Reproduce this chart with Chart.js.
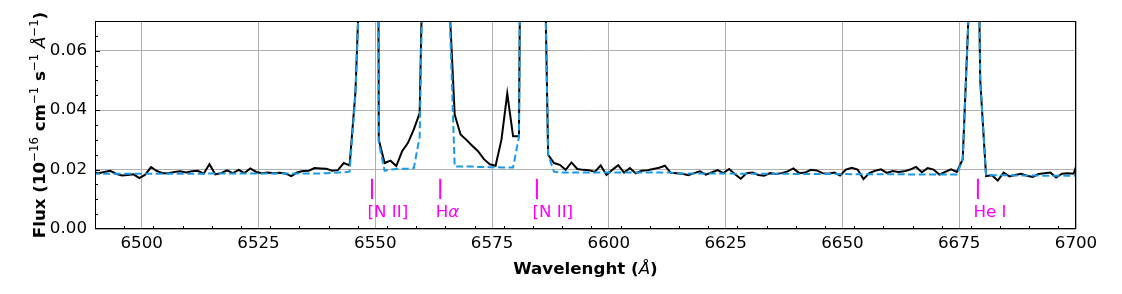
<!DOCTYPE html>
<html><head><meta charset="utf-8">
<script src="https://cdn.jsdelivr.net/npm/chart.js@4.4.1/dist/chart.umd.min.js"></script>
<style>html,body{margin:0;padding:0;background:#fff;}#wrap{width:1122px;height:294px;}</style>
</head><body><div id="wrap"><canvas id="c" width="1122" height="294"></canvas></div>
<script>
// Wavelength grid (Angstrom), 1.25 A sampling
const wavelength = [
6489.5,6490.75,6492,6493.25,6494.5,6495.75,6497,6498.25,6499.5,6500.75,
6502,6503.25,6504.5,6505.75,6507,6508.25,6509.5,6510.75,6512,6513.25,
6514.5,6515.75,6517,6518.25,6519.5,6520.75,6522,6523.25,6524.5,6525.75,
6527,6528.25,6529.5,6530.75,6532,6533.25,6534.5,6535.75,6537,6538.25,
6539.5,6540.75,6542,6543.25,6544.5,6545.75,6547,6548.25,6549.5,6550.75,
6552,6553.25,6554.5,6555.75,6557,6558.25,6559.5,6560.75,6562,6563.25,
6564.5,6565.75,6567,6568.25,6569.5,6570.75,6572,6573.25,6574.5,6575.75,
6577,6578.25,6579.5,6580.75,6582,6583.25,6584.5,6585.75,6587,6588.25,
6589.5,6590.75,6592,6593.25,6594.5,6595.75,6597,6598.25,6599.5,6600.75,
6602,6603.25,6604.5,6605.75,6607,6608.25,6609.5,6610.75,6612,6613.25,
6614.5,6615.75,6617,6618.25,6619.5,6620.75,6622,6623.25,6624.5,6625.75,
6627,6628.25,6629.5,6630.75,6632,6633.25,6634.5,6635.75,6637,6638.25,
6639.5,6640.75,6642,6643.25,6644.5,6645.75,6647,6648.25,6649.5,6650.75,
6652,6653.25,6654.5,6655.75,6657,6658.25,6659.5,6660.75,6662,6663.25,
6664.5,6665.75,6667,6668.25,6669.5,6670.75,6672,6673.25,6674.5,6675.75,
6677,6678.25,6679.5,6680.75,6682,6683.25,6684.5,6685.75,6687,6688.25,
6689.5,6690.75,6692,6693.25,6694.5,6695.75,6697,6698.25,6699.5,6700.75,
6702];

// Observed flux (1e-16 erg cm^-1 s^-1 A^-1)
const observedFlux = [
0.0192,0.0188,0.0192,0.0196,0.0186,0.0180,0.0182,0.0184,0.0171,0.0183,
0.0208,0.0195,0.0188,0.0188,0.0192,0.0194,0.0190,0.0194,0.0196,0.0186,
0.0218,0.0184,0.0188,0.0197,0.0188,0.0199,0.0188,0.0204,0.0192,0.0188,
0.0190,0.0188,0.0189,0.0187,0.0178,0.0190,0.0195,0.0196,0.0205,0.0204,
0.0203,0.0196,0.0198,0.0222,0.0214,0.0460,0.1000,0.6000,0.8000,0.0300,
0.0222,0.0230,0.0212,0.0262,0.0290,0.0335,0.0390,0.1400,0.5000,0.9000,
0.6000,0.0800,0.0385,0.0318,0.0300,0.0280,0.0262,0.0235,0.0218,0.0213,
0.0300,0.0456,0.0312,0.0312,0.3000,1.0000,0.9000,0.1400,0.0250,0.0222,
0.0216,0.0199,0.0224,0.0202,0.0199,0.0198,0.0192,0.0214,0.0182,0.0199,
0.0215,0.0190,0.0205,0.0187,0.0196,0.0198,0.0202,0.0206,0.0213,0.0189,
0.0188,0.0186,0.0181,0.0188,0.0194,0.0183,0.0190,0.0198,0.0188,0.0202,
0.0184,0.0169,0.0188,0.0190,0.0182,0.0179,0.0188,0.0185,0.0188,0.0194,
0.0204,0.0188,0.0190,0.0199,0.0197,0.0188,0.0186,0.0190,0.0180,0.0200,
0.0206,0.0200,0.0168,0.0188,0.0196,0.0201,0.0189,0.0195,0.0192,0.0194,
0.0200,0.0209,0.0191,0.0205,0.0200,0.0183,0.0192,0.0201,0.0192,0.0235,
0.0720,0.2000,0.0500,0.0178,0.0181,0.0163,0.0190,0.0177,0.0182,0.0186,
0.0179,0.0175,0.0185,0.0188,0.0190,0.0173,0.0186,0.0188,0.0186,0.0245,
0.0250];

// Fitted model flux
const modelFlux = [
0.0186,0.0186,0.0186,0.0186,0.0186,0.0186,0.0186,0.0186,0.0186,0.0186,
0.0186,0.0186,0.0186,0.0186,0.0186,0.0186,0.0186,0.0186,0.0186,0.0186,
0.0187,0.0187,0.0187,0.0187,0.0187,0.0187,0.0187,0.0187,0.0187,0.0187,
0.0187,0.0187,0.0187,0.0187,0.0187,0.0187,0.0187,0.0187,0.0187,0.0187,
0.0188,0.0189,0.0190,0.0191,0.0193,0.0450,0.1000,0.6000,0.8000,0.0290,
0.0196,0.0200,0.0202,0.0203,0.0203,0.0205,0.0310,0.1400,0.5000,0.9000,
0.6000,0.0800,0.0210,0.0210,0.0210,0.0210,0.0209,0.0209,0.0208,0.0208,
0.0207,0.0207,0.0207,0.0310,0.3000,1.0000,0.9000,0.1400,0.0250,0.0193,
0.0190,0.0190,0.0190,0.0190,0.0190,0.0190,0.0190,0.0190,0.0190,0.0190,
0.0190,0.0190,0.0190,0.0190,0.0190,0.0190,0.0190,0.0190,0.0190,0.0190,
0.0187,0.0187,0.0187,0.0187,0.0187,0.0187,0.0187,0.0187,0.0187,0.0187,
0.0186,0.0186,0.0186,0.0186,0.0186,0.0186,0.0186,0.0186,0.0186,0.0186,
0.0185,0.0185,0.0185,0.0185,0.0185,0.0185,0.0185,0.0185,0.0185,0.0185,
0.0184,0.0184,0.0184,0.0184,0.0184,0.0184,0.0184,0.0184,0.0184,0.0184,
0.0183,0.0183,0.0183,0.0183,0.0183,0.0183,0.0183,0.0183,0.0183,0.0235,
0.0720,0.2000,0.0500,0.0182,0.0181,0.0181,0.0181,0.0181,0.0180,0.0180,
0.0180,0.0180,0.0180,0.0179,0.0179,0.0179,0.0179,0.0179,0.0179,0.0179,
0.0179];

const xTickValues = [6500, 6525, 6550, 6575, 6600, 6625, 6650, 6675, 6700];
const yTickValues = [0.00, 0.02, 0.04, 0.06];

// Emission line markers
const lineNames = ['[N II]', 'H\u03b1', '[N II]', 'He I'];
const lineWaves = [6549.3, 6563.9, 6584.6, 6679.0];

const FONT = 'DejaVu Sans';
const FS = 16.7;

const decorPlugin = {
  id: 'decor',
  afterDraw(chart) {
    const ctx = chart.ctx;
    const xs = chart.scales.x, ys = chart.scales.y;
    const a = chart.chartArea;
    ctx.save();
    // frame
    ctx.strokeStyle = '#000';
    ctx.lineWidth = 1;
    ctx.strokeRect(Math.round(a.left) + 0.5, Math.round(a.top) + 0.5,
      Math.round(a.right - a.left) - 1, Math.round(a.bottom - a.top) - 1);
    // inward ticks
    ctx.beginPath();
    for (let v = 6490; v <= 6700 + 1e-6; v += 6.25) {
      const px = Math.round(xs.getPixelForValue(v)) + 0.5;
      if (px < a.left || px > a.right) continue;
      const major = Math.abs((v - 6500) / 25 - Math.round((v - 6500) / 25)) < 1e-6;
      const len = major ? 5 : 3;
      ctx.moveTo(px, a.bottom);
      ctx.lineTo(px, a.bottom - len);
    }
    for (let i = 0; i <= 14; i++) {
      const v = i * 0.005;
      const py = Math.round(ys.getPixelForValue(v)) + 0.5;
      if (py < a.top || py > a.bottom) continue;
      const len = (i % 4 === 0) ? 5 : 3;
      ctx.moveTo(a.left, py);
      ctx.lineTo(a.left + len, py);
    }
    ctx.stroke();

    // emission line markers
    ctx.fillStyle = '#ff00ff';
    ctx.strokeStyle = '#ff00ff';
    ctx.lineWidth = 2;
    ctx.textBaseline = 'alphabetic';
    ctx.textAlign = 'left';
    lineWaves.forEach((w, i) => {
      const px = xs.getPixelForValue(w);
      ctx.beginPath();
      ctx.moveTo(px, ys.getPixelForValue(0.0169));
      ctx.lineTo(px, ys.getPixelForValue(0.0101));
      ctx.stroke();
      const name = lineNames[i];
      const by = ys.getPixelForValue(0.0041);
      let x0 = px - 4.5;
      if (name === 'H\u03b1') {
        ctx.font = FS + 'px "' + FONT + '"';
        ctx.fillText('H', x0, by);
        x0 += ctx.measureText('H').width;
        ctx.font = 'italic ' + FS + 'px "' + FONT + '"';
        ctx.fillText('\u03b1', x0, by);
      } else {
        ctx.font = FS + 'px "' + FONT + '"';
        ctx.fillText(name, x0, by);
      }
    });

    // axis titles
    ctx.fillStyle = '#000';
    const bold = 'bold ' + FS + 'px "' + FONT + '"';
    const ital = 'italic ' + FS + 'px "' + FONT + '"';
    const sup = (FS * 0.7).toFixed(1) + 'px "' + FONT + '"';
    function drawSegs(segs, cx, cy) {
      let total = 0;
      segs.forEach(s => { ctx.font = s.f; s.w = ctx.measureText(s.t).width; total += s.w; });
      let x = cx - total / 2;
      segs.forEach(s => { ctx.font = s.f; ctx.fillText(s.t, x, cy + (s.dy || 0)); x += s.w; });
    }
    ctx.textAlign = 'left';
    ctx.textBaseline = 'alphabetic';
    drawSegs([
      {t: 'Wavelenght (', f: bold},
      {t: '\u00c5', f: ital},
      {t: ')', f: bold}
    ], (a.left + a.right) / 2, 274);

    ctx.save();
    ctx.translate(45, (a.top + a.bottom) / 2);
    ctx.rotate(-Math.PI / 2);
    drawSegs([
      {t: 'Flux (10', f: bold},
      {t: '\u221216', f: sup, dy: -7},
      {t: ' cm', f: bold},
      {t: '\u22121', f: sup, dy: -7},
      {t: ' s', f: bold},
      {t: '\u22121', f: sup, dy: -7},
      {t: ' ', f: bold},
      {t: '\u00c5', f: ital},
      {t: '\u22121', f: sup, dy: -7},
      {t: ')', f: bold}
    ], 0, 0);
    ctx.restore();
    ctx.restore();
  }
};

new Chart(document.getElementById('c'), {
  type: 'line',
  data: {
    datasets: [
      {
        label: 'Model',
        data: wavelength.map((w, i) => ({x: w, y: modelFlux[i]})),
        borderColor: '#1b98e6',
        borderWidth: 2,
        borderDash: [7, 3.5],
        pointRadius: 0,
        tension: 0,
        order: 0
      },
      {
        label: 'Observed',
        data: wavelength.map((w, i) => ({x: w, y: observedFlux[i]})),
        borderColor: '#000000',
        borderWidth: 2,
        pointRadius: 0,
        tension: 0,
        order: 1
      }
    ]
  },
  options: {
    responsive: false,
    animation: false,
    devicePixelRatio: 1,
    layout: {padding: {left: 0, right: 46, top: 21, bottom: 0}},
    plugins: {legend: {display: false}, tooltip: {enabled: false}},
    scales: {
      x: {
        type: 'linear',
        min: 6490, max: 6700,
        afterBuildTicks: s => { s.ticks = xTickValues.map(v => ({value: v})); },
        afterFit: s => { s.height = 65; },
        ticks: {font: {family: FONT, size: FS}, color: '#000', padding: 5, maxRotation: 0, autoSkip: false,
          callback: v => String(v)},
        grid: {color: '#b0b0b0', lineWidth: 1, drawTicks: false},
        border: {display: false},
        title: {display: false}
      },
      y: {
        type: 'linear',
        min: 0, max: 0.07,
        afterBuildTicks: s => { s.ticks = yTickValues.map(v => ({value: v})); },
        afterFit: s => { s.width = 95; },
        ticks: {font: {family: FONT, size: FS}, color: '#000', padding: 8,
          callback: v => Number(v).toFixed(2)},
        grid: {color: '#b0b0b0', lineWidth: 1, drawTicks: false},
        border: {display: false},
        title: {display: false}
      }
    }
  },
  plugins: [decorPlugin]
});
</script></body></html>
